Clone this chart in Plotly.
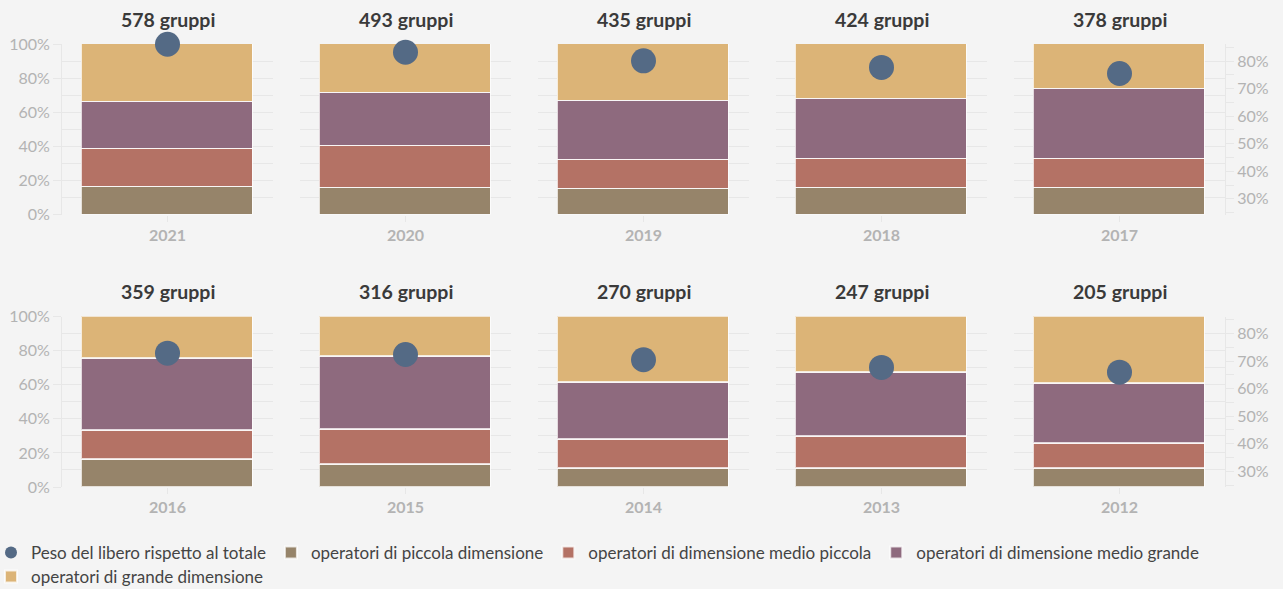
import plotly.graph_objects as go
from plotly.subplots import make_subplots

# Anni e numero di gruppi per pannello
anni = ["2021", "2020", "2019", "2018", "2017", "2016", "2015", "2014", "2013", "2012"]
gruppi = [578, 493, 435, 424, 378, 359, 316, 270, 247, 205]

# Composizione percentuale (quota per dimensione degli operatori)
piccola = [16.1, 15.7, 15.1, 15.7, 15.7, 16.3, 13.4, 10.9, 10.7, 11.1]
medio_piccola = [22.3, 24.5, 16.7, 16.8, 16.8, 17.1, 20.5, 17.1, 18.8, 14.6]
medio_grande = [27.7, 31.0, 34.7, 35.5, 41.2, 42.1, 42.9, 33.5, 37.6, 35.0]
grande = [33.9, 28.8, 33.5, 32.0, 26.3, 24.5, 23.2, 38.5, 32.9, 39.3]

# Peso del libero rispetto al totale (asse destro)
peso_libero = [86.1, 83.2, 80.1, 77.7, 75.5, 72.9, 72.4, 70.5, 67.7, 66.0]

serie = [
    ("operatori di piccola dimensione", piccola, "#96846a"),
    ("operatori di dimensione medio piccola", medio_piccola, "#b47265"),
    ("operatori di dimensione medio grande", medio_grande, "#8e6a7e"),
    ("operatori di grande dimensione", grande, "#dcb477"),
]
colore_peso = "#546a85"

BG = "#f4f4f4"
GRID = "#e7e7e7"
TICK_COLOR = "#b3b3b3"
FONT = "Lato"

W, H = 1283, 589
ML, MR, MT, MB = 62, 58, 44, 102
plot_w = W - ML - MR
plot_h = H - MT - MB
PANEL_W, PANEL_GAP = 211, 27


def py(pixel_y):
    """Pixel row -> paper y coordinate."""
    return (MT + plot_h - pixel_y) / plot_h


def px(pixel_x):
    """Pixel column -> paper x coordinate."""
    return (pixel_x - ML) / plot_w


fig = make_subplots(
    rows=2, cols=5,
    specs=[[{"secondary_y": True}] * 5] * 2,
    vertical_spacing=(316 - 214) / plot_h,
)

for i, anno in enumerate(anni):
    r, c = i // 5 + 1, i % 5 + 1
    for k, (nome, valori, colore) in enumerate(serie):
        fig.add_trace(
            go.Bar(
                x=[anno], y=[valori[i]], name=nome,
                marker=dict(color=colore, line=dict(color="rgba(255,255,255,0.75)", width=1.5)),
                width=0.815,
                showlegend=(i == 0), legendgroup=nome, legendrank=k + 2,
                legend="legend2" if k == 3 else "legend",
            ),
            row=r, col=c, secondary_y=False,
        )
    fig.add_trace(
        go.Scatter(
            x=[anno], y=[peso_libero[i]], mode="markers",
            name="Peso del libero rispetto al totale",
            marker=dict(color=colore_peso, size=25),
            showlegend=(i == 0), legendgroup="peso", legendrank=1,
            cliponaxis=False,
        ),
        row=r, col=c, secondary_y=True,
    )
    xref = "x" if i == 0 else f"x{i + 1}"
    yref = "y" if i == 0 else f"y{2 * i + 1}"
    fig.add_annotation(
        text=f"<b>{gruppi[i]} gruppi</b>",
        xref=f"{xref} domain", x=0.5,
        yref=f"{yref} domain", y=1,
        yanchor="middle", yshift=25, showarrow=False,
        font=dict(family=FONT, size=19.5, color="#3a3a3a"),
    )
    # panel column placement
    start = (c - 1) * (PANEL_W + PANEL_GAP) / plot_w
    fig.layout[f"xaxis{'' if i == 0 else i + 1}"].domain = [start, start + PANEL_W / plot_w]

fig.update_layout(barmode="stack")

fig.update_xaxes(
    range=[-0.5, 0.5], showgrid=False, zeroline=False, showline=False,
    ticks="outside", ticklen=6, tickcolor=GRID, tickwidth=1,
    tickfont=dict(family=FONT, size=16, color=TICK_COLOR, weight="bold"),
)

for r in (1, 2):
    for c in range(1, 6):
        fig.update_yaxes(
            range=[0, 100], tickvals=[0, 20, 40, 60, 80, 100],
            ticktext=["0%", "20%", "40%", "60%", "80%", "100%"],
            showticklabels=(c == 1),
            showgrid=True, gridcolor=GRID, gridwidth=1,
            minor=dict(tickvals=[10, 30, 50, 70, 90], showgrid=True, gridcolor=GRID),
            zeroline=False,
            showline=(c == 1), linecolor=GRID, linewidth=1,
            ticks="outside" if c == 1 else "", ticklen=8, tickcolor=GRID,
            tickfont=dict(family=FONT, size=16, color=TICK_COLOR),
            row=r, col=c, secondary_y=False,
        )
        fig.update_yaxes(
            range=[24.3, 86.2], tickvals=[30, 40, 50, 60, 70, 80],
            ticktext=["30%", "40%", "50%", "60%", "70%", "80%"],
            showticklabels=(c == 5), showgrid=False, zeroline=False,
            showline=(c == 5), linecolor=GRID, linewidth=1,
            ticks="outside" if c == 5 else "", ticklen=8, tickcolor=GRID,
            minor=dict(tickvals=[25, 35, 45, 55, 65, 75, 85], ticks="outside" if c == 5 else "",
                       ticklen=8, tickcolor=GRID),
            tickfont=dict(family=FONT, size=16, color=TICK_COLOR),
            row=r, col=c, secondary_y=True,
        )

legend_style = dict(
    orientation="h", xanchor="left", yanchor="middle",
    traceorder="normal", itemsizing="constant",
    font=dict(family=FONT, size=17, color="#444444"),
    bgcolor="rgba(0,0,0,0)", itemwidth=30,
)

fig.update_layout(
    width=W, height=H,
    margin=dict(l=ML, r=MR, t=MT, b=MB, autoexpand=False),
    paper_bgcolor=BG, plot_bgcolor=BG,
    font=dict(family=FONT, size=15, color="#555555"),
    legend=dict(x=px(-9), y=py(553), **legend_style),
    legend2=dict(x=px(-9), y=py(577), **legend_style),
    bargap=0,
)

fig.write_html("out.html")
